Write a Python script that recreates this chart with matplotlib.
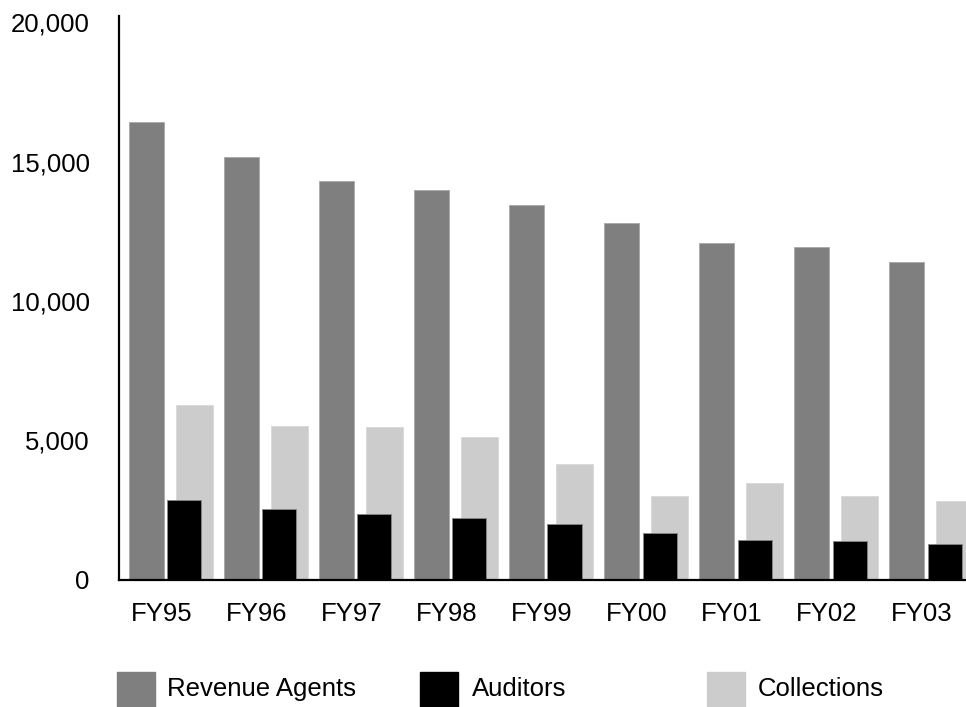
import matplotlib
matplotlib.use("Agg")
import matplotlib.pyplot as plt
from matplotlib.patches import Rectangle
import numpy as np

# data
years = ["FY95", "FY96", "FY97", "FY98", "FY99", "FY00", "FY01", "FY02", "FY03"]
revenue_agents = [16430, 15160, 14320, 13985, 13450, 12810, 12070, 11930, 11410]
auditors = [2850, 2540, 2340, 2200, 1980, 1680, 1420, 1370, 1260]
collections = [6270, 5510, 5490, 5110, 4150, 3000, 3450, 3000, 2820]
series = ["Revenue Agents", "Auditors", "Collections"]
colors = ["#7f7f7f", "#000000", "#cccccc"]

plt.rcParams['font.family'] = ['Liberation Sans', 'DejaVu Sans']

fig = plt.figure(figsize=(9.66, 7.07), dpi=100)
ax = fig.add_axes([0.1232, 0.1803, 0.8768, 0.7971])

x = np.arange(len(years))
ax.bar(x, revenue_agents, width=0.368, align='edge', color=colors[0],
       edgecolor='#a8a8a8', linewidth=0.6, zorder=3)
ax.bar(x + 0.495, collections, width=0.39, align='edge', color=colors[2],
       edgecolor='#d8d8d8', linewidth=0.6, zorder=2)
ax.bar(x + 0.405, auditors, width=0.358, align='edge', color=colors[1],
       edgecolor='#888888', linewidth=0.6, zorder=4)

ax.set_xlim(-0.105, 8.81)
ax.set_ylim(0, 20230)
ax.set_yticks([0, 5000, 10000, 15000, 20000])
ax.set_yticklabels(["0", "5,000", "10,000", "15,000", "20,000"])
ax.set_xticks(x + 0.34)
ax.set_xticklabels(years)
ax.tick_params(axis='y', length=0, pad=21, labelsize=18.5)
ax.tick_params(axis='x', length=0, pad=16, labelsize=18.5)

for s in ["top", "right"]:
    ax.spines[s].set_visible(False)
ax.spines["left"].set_linewidth(1.6)
ax.spines["bottom"].set_linewidth(1.6)
ax.spines["bottom"].set_zorder(5)

# legend, placed by hand like the original
W, H = 966.0, 707.0
patch_x = [117, 420, 707]
text_x = [167, 472, 758]
for px, tx, name, c in zip(patch_x, text_x, series, colors):
    fig.patches.append(Rectangle((px / W, 0), 38 / W, (H - 672) / H,
                                 transform=fig.transFigure, color=c))
    fig.text(tx / W, 1 - 689 / H, name, fontsize=18.5, va='center', ha='left')

fig.savefig("out.png", dpi=100)
